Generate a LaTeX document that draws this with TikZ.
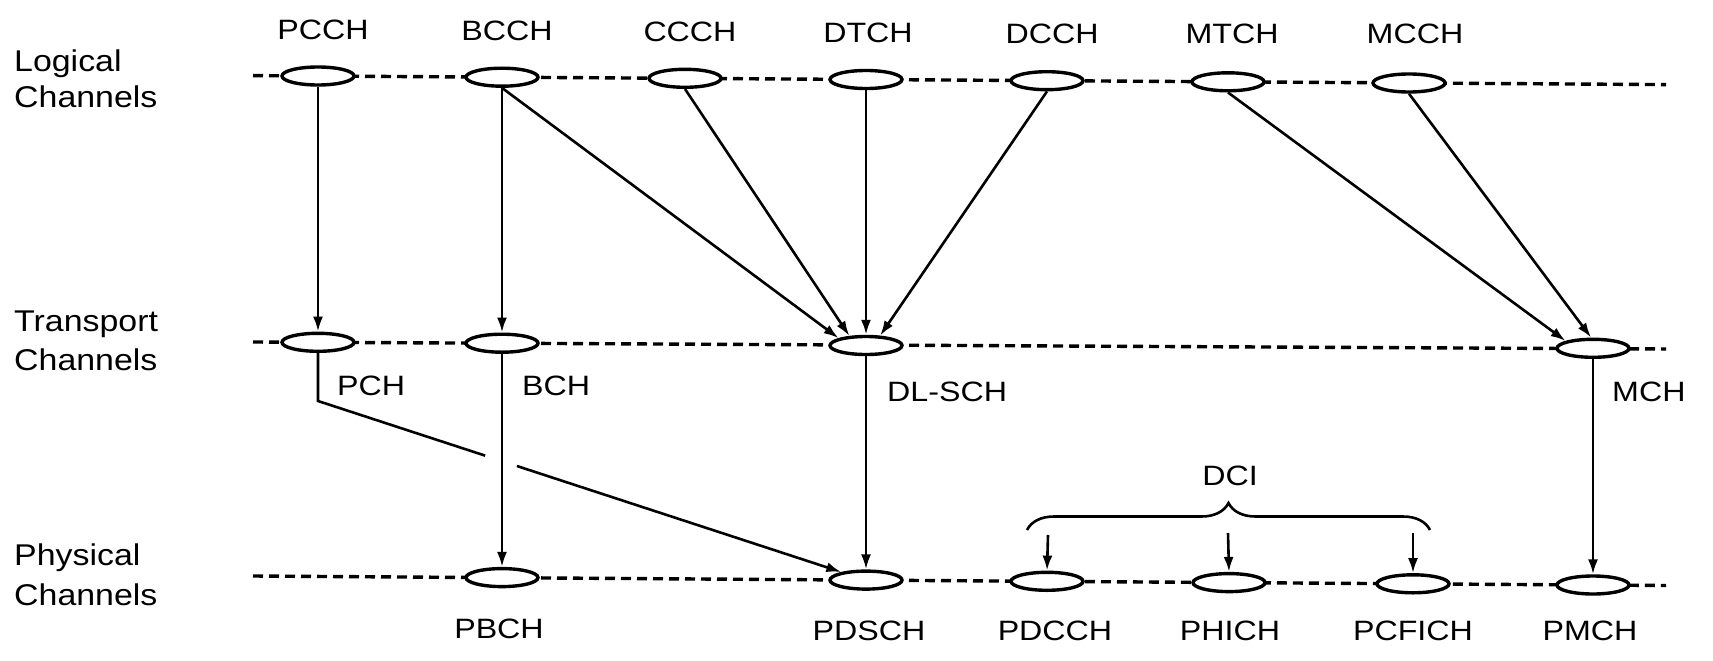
\documentclass[tikz,border=0pt]{standalone}
\usepackage{fontspec}
\setmainfont{Liberation Sans}
\usetikzlibrary{shapes.geometric,arrows.meta,calc,decorations.pathreplacing}
\newcommand{\sx}[1]{\scalebox{1.15}[1]{#1}}
\newcommand{\sxl}[1]{\scalebox{1.13}[1]{#1}}
\tikzset{
  ch/.style={ellipse, draw, line width=3.4pt, fill=white, minimum width=72pt, minimum height=18pt, inner sep=0pt},
  txt/.style={font=\fontsize{28}{34}\selectfont, inner sep=0pt},
  rowtxt/.style={font=\fontsize{30}{36}\selectfont, inner sep=0pt, anchor=base west},
  arr/.style={line width=2.6pt, -{Latex[length=15pt,width=10pt]}},
  plain/.style={line width=2.6pt},
  chline/.style={line width=3.4pt, dash pattern=on 10pt off 6pt},
}
\begin{document}
\begin{tikzpicture}[x=1pt,y=-1pt]
\useasboundingbox (0,0) rectangle (1713,661);

% row labels
\node[rowtxt] (lgA) at (14,71) {\sxl{Logical}};
\node[rowtxt] (lgB) at (14,107) {\sxl{Channels}};
\node[rowtxt] (trA) at (14,331) {\sxl{Transport}};
\node[rowtxt] (trB) at (14,370) {\sxl{Channels}};
\node[rowtxt] (phA) at (14,565) {\sxl{Physical}};
\node[rowtxt] (phB) at (14,605) {\sxl{Channels}};

% dashed channel lines
\coordinate (l0) at (253,75.6);  \coordinate (l1) at (1666,84.6);
\coordinate (t0) at (253,342);   \coordinate (t1) at (1666,349);
\coordinate (p0) at (253,576);   \coordinate (p1) at (1666,585.5);
\draw[chline] (l0) -- (l1);
\draw[chline] (t0) -- (t1);
\draw[chline] (p0) -- (p1);

% logical channels
\node[ch] (pcch) at (318,76) {};
\node[ch] (bcch) at (502,77.2) {};
\node[ch] (ccch) at (685,78.3) {};
\node[ch] (dtch) at (866,79.5) {};
\node[ch] (dcch) at (1047,80.7) {};
\node[ch] (mtch) at (1228,81.8) {};
\node[ch] (mcch) at (1409,83) {};
\node[txt,anchor=base] (pcchL) at (323,40) {\sx{PCCH}};
\node[txt,anchor=base] (bcchL) at (507,41) {\sx{BCCH}};
\node[txt,anchor=base] (ccchL) at (690,42) {\sx{CCCH}};
\node[txt,anchor=base] (dtchL) at (868,43) {\sx{DTCH}};
\node[txt,anchor=base] (dcchL) at (1052,44) {\sx{DCCH}};
\node[txt,anchor=base] (mtchL) at (1232,44) {\sx{MTCH}};
\node[txt,anchor=base] (mcchL) at (1415,44) {\sx{MCCH}};

% transport channels
\node[ch] (pch) at (318,342.3) {};
\node[ch] (bch) at (502,343.2) {};
\node[ch] (dlsch) at (866,345.5) {};
\node[ch] (mch) at (1593,348.3) {};
\node[txt,anchor=base west] (pchL) at (337,395) {\sx{PCH}};
\node[txt,anchor=base west] (bchL) at (522,395) {\sx{BCH}};
\node[txt,anchor=base west] (dlschL) at (887,401) {\sx{DL-SCH}};
\node[txt,anchor=base west] (mchL) at (1612,401) {\sx{MCH}};

% physical channels
\node[ch] (pbch) at (502,577.6) {};
\node[ch] (pdsch) at (866,580.1) {};
\node[ch] (pdcch) at (1047,581.3) {};
\node[ch] (phich) at (1229,582.6) {};
\node[ch] (pcfich) at (1413,583.8) {};
\node[ch] (pmch) at (1593,585) {};
\node[txt,anchor=base] (pbchL) at (499,638) {\sx{PBCH}};
\node[txt,anchor=base] (pdschL) at (869,640) {\sx{PDSCH}};
\node[txt,anchor=base] (pdcchL) at (1055,640) {\sx{PDCCH}};
\node[txt,anchor=base] (phichL) at (1230,640) {\sx{PHICH}};
\node[txt,anchor=base] (pcfichL) at (1413,640) {\sx{PCFICH}};
\node[txt,anchor=base] (pmchL) at (1590,640) {\sx{PMCH}};

% logical -> transport
\draw[arr] (pcch.south) -- (pch.north);
\draw[arr] (bcch.south) -- (bch.north);
\draw[arr] (bcch.south) -- (dlsch.165);
\draw[arr] (ccch.south) -- (dlsch.150);
\draw[arr] (dtch.south) -- (dlsch.north);
\draw[arr] (dcch.south) -- (dlsch.35);
\draw[arr] (mtch.south) -- (mch.165);
\draw[arr] (mcch.south) -- (mch.100);

% transport -> physical
\coordinate (pchbend) at (318,401);
\coordinate (gapA) at ($(pchbend)!0.305!(pdsch.center)$);
\coordinate (gapB) at ($(pchbend)!0.363!(pdsch.center)$);
\draw[plain] (pch.south) -- (pchbend) -- (gapA);
\draw[arr] (gapB) -- (pdsch);
\draw[arr] (bch.south) -- (pbch.north);
\draw[arr] (dlsch.south) -- (pdsch.north);
\draw[arr] (mch.south) -- (pmch.north);

% DCI brace
\coordinate (brL) at (1027,530);
\coordinate (brR) at (1430,530);
\draw[line width=2.6pt, decorate, decoration={brace, amplitude=27pt}] (brL) -- (brR);
\node[txt,anchor=base] (dci) at (1230,485) {\sx{DCI}};
\coordinate (dA) at (1048,535);
\coordinate (dB) at (1228,533);
\coordinate (dC) at (1413,533);
\draw[arr] (dA) -- (pdcch.north);
\draw[arr] (dB) -- (phich.north);
\draw[arr] (dC) -- (pcfich.north);
\end{tikzpicture}
\end{document}
